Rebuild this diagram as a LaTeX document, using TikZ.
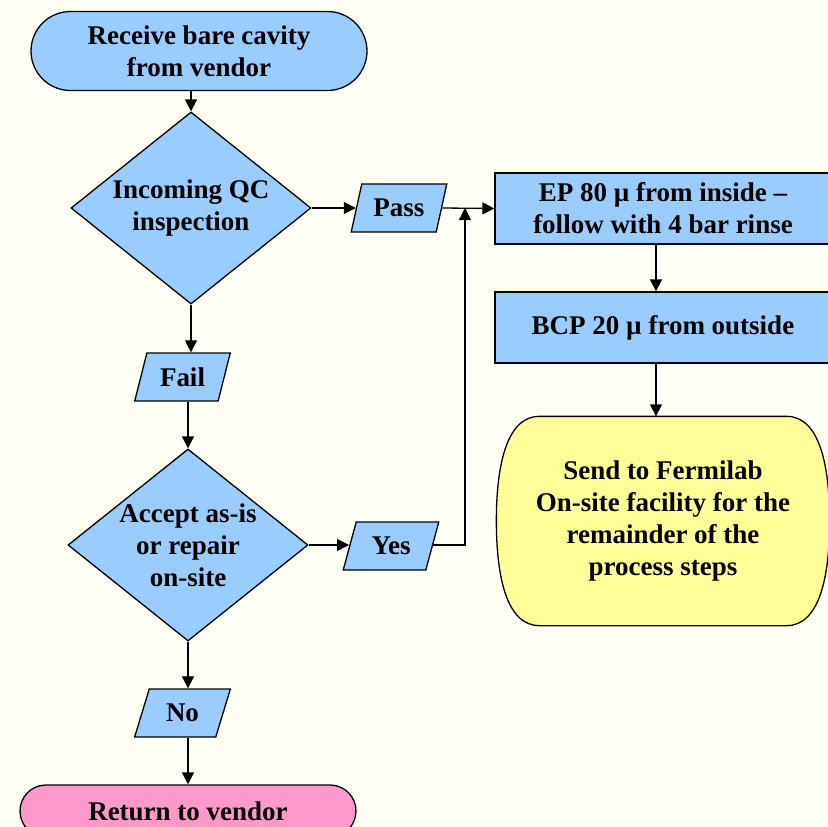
\documentclass[tikz,border=0pt]{standalone}
\usepackage{fontspec}
\setmainfont{Liberation Serif}
\usetikzlibrary{shapes.geometric,shapes.misc,arrows.meta,backgrounds}

\definecolor{bgcream}{HTML}{FFFFF6}
\definecolor{boxblue}{HTML}{99CCFF}
\definecolor{boxyellow}{HTML}{FFFF99}
\definecolor{boxpink}{HTML}{FF99CC}

\tikzset{
  base/.style={draw,line width=1.3pt,fill=boxblue,align=center,inner sep=0pt,
    font=\bfseries\fontsize{27}{32}\selectfont},
  terminal/.style={base,rounded rectangle,minimum width=336pt,minimum height=79pt},
  decision/.style={base,diamond,minimum width=240pt,minimum height=192pt,inner sep=-12pt},
  iobox/.style={base,trapezium,trapezium left angle=68,trapezium right angle=112,
    trapezium stretches=true,minimum width=96pt,minimum height=48pt},
  process/.style={base,rectangle,minimum width=336pt,minimum height=71pt},
  flow/.style={line width=1.3pt,-{Triangle[length=12pt,width=12pt]}}
}

\begin{document}
\begin{tikzpicture}[x=1pt,y=-1pt]
   \path[use as bounding box] (0,0) rectangle (828,827);
   \clip (0,0) rectangle (828,827);

   \node[terminal] (recv) at (199,51) {Receive bare cavity\\from vendor};
   \node[decision] (qc) at (191,208) {Incoming QC\\inspection};
   \node[iobox] (pass) at (399,208) {Pass};
   \node[process] (ep) at (663,208.5) {EP 80 µ from inside –\\follow with 4 bar rinse};
   \node[process] (bcp) at (663,327.5) {BCP 20 µ from outside};
   \node[base,draw=none,fill=none,minimum width=332pt,minimum height=208pt] (send)
     at (663,521) {Send to Fermilab\\On-site facility for the\\remainder of the\\process steps};
   \node[iobox] (fail) at (182.5,377) {Fail};
   \node[decision] (accept) at (188,545) {Accept as-is\\or repair\\on-site};
   \node[iobox] (yes) at (391,546) {Yes};
   \node[iobox] (no) at (182.5,713) {No};
   \node[terminal,fill=boxpink,minimum height=52pt] (ret) at (188,811) {Return to vendor};
   \coordinate (join) at (465,208);

   % yellow end box and page colour
   \begin{scope}[on background layer]
     \fill[bgcream] (0,0) rectangle (828,827);
     \draw[line width=1.3pt,fill=boxyellow]
       ([xshift=43pt]send.north west) -- ([xshift=-43pt]send.north east)
       .. controls ([xshift=-10pt]send.north east) and ([yshift=55pt]send.east) .. (send.east)
       .. controls ([yshift=-55pt]send.east) and ([xshift=-10pt]send.south east) .. ([xshift=-43pt]send.south east)
       -- ([xshift=43pt]send.south west)
       .. controls ([xshift=10pt]send.south west) and ([yshift=-55pt]send.west) .. (send.west)
       .. controls ([yshift=55pt]send.west) and ([xshift=10pt]send.north west) .. cycle;
   \end{scope}

   \draw[flow] (recv.south -| qc.north) -- (qc.north);
   \draw[flow] (qc.east) -- (qc.east -| pass.west);
   \draw[flow] (pass.east) -- (ep.west);
   \draw[flow] ([xshift=-7pt]ep.south) -- ([xshift=-7pt]bcp.north);
   \draw[flow] ([xshift=-7pt]bcp.south) -- ([xshift=-7pt]send.north);
   \draw[flow] (qc.south) -- (qc.south |- fail.north);
   \draw[flow] (fail.south -| accept.north) -- (accept.north);
   \draw[flow] (accept.east) -- (accept.east -| yes.west);
   \draw[flow] (accept.east -| yes.east) -| (join);
   \draw[flow] (accept.south) -- (accept.south |- no.north);
   \draw[flow] (no.south -| ret.north) -- (ret.north);
  \end{tikzpicture}
\end{document}
